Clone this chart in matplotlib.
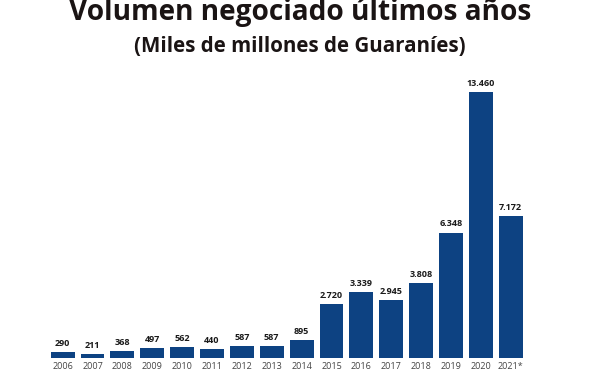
import matplotlib
matplotlib.use("Agg")
import matplotlib.pyplot as plt

years = ["2006", "2007", "2008", "2009", "2010", "2011", "2012", "2013",
         "2014", "2015", "2016", "2017", "2018", "2019", "2020", "2021*"]
volumes = [290, 211, 368, 497, 562, 440, 587, 587,
           895, 2720, 3339, 2945, 3808, 6348, 13460, 7172]


def fmt_miles(v):
    # thousands separator with a dot, as in the source
    return f"{v:,}".replace(",", ".")


plt.rcParams['font.family'] = ['Open Sans', 'DejaVu Sans']

fig = plt.figure(figsize=(6, 3.74), dpi=100)
ax = fig.add_axes([0.0795, 0.0428, 0.7965, 0.743])

x = range(len(years))
bars = ax.bar(x, volumes, width=0.8, color="#0d4282")

for b, v in zip(bars, volumes):
    ax.annotate(fmt_miles(v), (b.get_x() + b.get_width() / 2, b.get_height()),
                xytext=(0, 3), textcoords="offset points",
                ha="center", va="bottom", fontsize=6.5, fontweight="bold",
                color="#1a1a1a")

ax.set_xlim(-0.5, len(years) - 0.5)
ax.set_ylim(0, 14070)
ax.set_xticks(list(x))
ax.set_xticklabels(years, fontsize=6.5, color="#444444")
ax.tick_params(axis="x", length=0, pad=3)
ax.set_yticks([])
for s in ax.spines.values():
    s.set_visible(False)

fig.text(0.5, 1 - 20 / 374, "Volumen negociado últimos años",
         ha="center", va="baseline", fontsize=20.2, fontweight="bold",
         color="#1a1414")
fig.text(0.5, 1 - 52 / 374, "(Miles de millones de Guaraníes)",
         ha="center", va="baseline", fontsize=14.8, fontweight="bold",
         color="#1a1414")

fig.savefig("out.png", dpi=100)
